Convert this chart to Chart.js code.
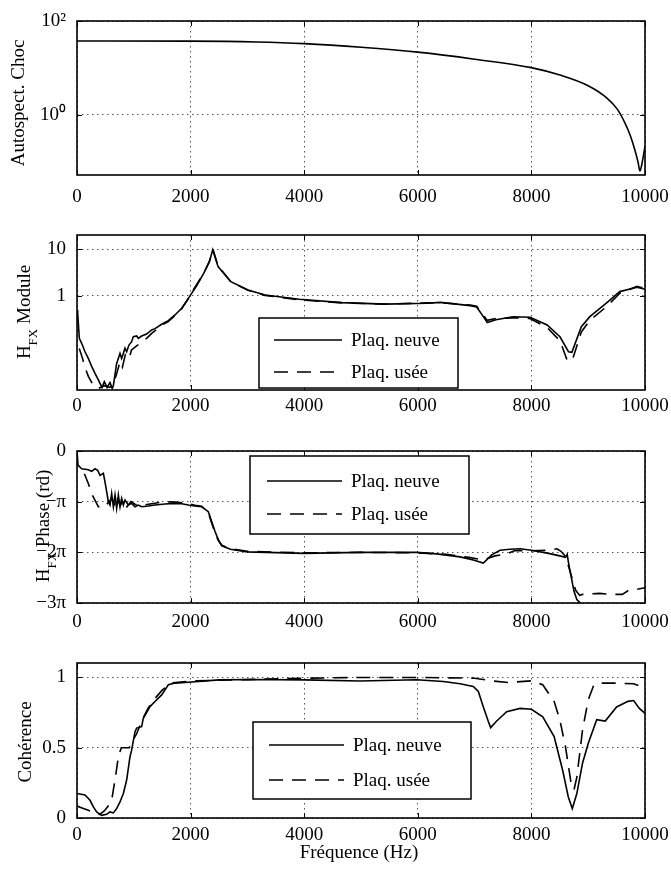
<!DOCTYPE html>
<html><head><meta charset="utf-8">
<script src="https://cdn.jsdelivr.net/npm/chart.js@4.4.1/dist/chart.umd.min.js"></script>
<style>
html,body{margin:0;padding:0;background:#fff;}
#wrap{position:relative;width:671px;height:872px;overflow:hidden;}
canvas{position:absolute;left:0;}
</style></head><body>
<div id="wrap">
<canvas id="c1" width="671" height="210" style="top:0px"></canvas>
<canvas id="c2" width="671" height="210" style="top:210px"></canvas>
<canvas id="c3" width="671" height="210" style="top:420px"></canvas>
<canvas id="c4" width="671" height="242" style="top:630px"></canvas>
</div>
<script>
// ---------------- DATA ----------------
const seriesLabels = ['Plaq. neuve', 'Plaq. usée'];
const xTicks = [0, 2000, 4000, 6000, 8000, 10000];

// Plot 1 : Autospectre du choc (log)
const autoFreq = [0, 1994, 3160, 4003, 5004, 5997, 6998, 7998, 8503, 8999, 9330, 9518, 9646, 9744, 9819, 9880, 9910, 9932, 10000];
const autoChoc = [37.5, 37.2, 35.7, 32.9, 27.5, 21.6, 15.3, 10.1, 7.0, 4.14, 2.26, 1.28, 0.665, 0.35, 0.18, 0.094, 0.063, 0.074, 0.21];
const autoYTicks = [1, 100];
const autoYLabels = ['10⁰', '10²'];

// Plot 2 : H_FX module (log)
const modFreqNeuve = [0, 12, 41, 82, 141, 199, 258, 317, 376, 405, 440, 481, 530, 581, 620, 640, 698, 757, 786, 845, 874, 915, 962, 992, 1050, 1080, 1138, 1226, 1315, 1373, 1491, 1608, 1725, 1843, 1960, 2100, 2230, 2330, 2390, 2483, 2709, 3010, 3311, 3913, 4665, 5418, 6170, 6396, 6923, 7036, 7148, 7223, 7374, 7675, 7976, 8277, 8503, 8653, 8713, 8879, 9029, 9330, 9556, 9857, 10000];
const modNeuve = [0.5, 0.43, 0.124, 0.097, 0.064, 0.046, 0.031, 0.022, 0.016, 0.0135, 0.011, 0.0146, 0.011, 0.014, 0.0105, 0.012, 0.036, 0.059, 0.046, 0.076, 0.064, 0.089, 0.105, 0.135, 0.139, 0.124, 0.139, 0.153, 0.187, 0.2, 0.248, 0.296, 0.392, 0.545, 0.89, 1.6, 3.06, 5.4, 9.7, 4.25, 2.02, 1.34, 1.05, 0.85, 0.72, 0.67, 0.70, 0.73, 0.62, 0.58, 0.37, 0.27, 0.31, 0.36, 0.35, 0.24, 0.134, 0.064, 0.062, 0.22, 0.36, 0.72, 1.24, 1.53, 1.39];
const modFreqUsee = [40, 100, 130, 200, 290, 380, 480, 580, 640, 700, 760, 800, 850, 915, 960, 1050, 1140, 1230, 1320, 1400, 1500, 1600, 1725, 1843, 1960, 2077, 2230, 2330, 2395, 2483, 2709, 3010, 3311, 3913, 4665, 5418, 6170, 6396, 6923, 7036, 7148, 7223, 7374, 7675, 7976, 8277, 8503, 8620, 8680, 8740, 8879, 9029, 9330, 9556, 9857, 10000];
const modUsee = [0.075, 0.045, 0.032, 0.019, 0.012, 0.0105, 0.012, 0.011, 0.013, 0.022, 0.04, 0.03, 0.055, 0.045, 0.07, 0.085, 0.105, 0.125, 0.16, 0.19, 0.24, 0.28, 0.38, 0.53, 0.87, 1.55, 3.0, 5.5, 9.9, 4.4, 2.0, 1.32, 1.03, 0.83, 0.71, 0.67, 0.71, 0.72, 0.64, 0.6, 0.4, 0.3, 0.33, 0.34, 0.33, 0.21, 0.11, 0.045, 0.039, 0.05, 0.17, 0.3, 0.6, 1.15, 1.6, 1.45];
const modYTicks = [1, 10];
const modYLabels = ['1', '10'];

// Plot 3 : H_FX phase (rd)
const phaseFreqNeuve = [0, 18, 82, 199, 258, 317, 364, 405, 464, 493, 522, 552, 581, 610, 640, 669, 698, 728, 757, 786, 816, 845, 904, 962, 1021, 1080, 1138, 1256, 1373, 1549, 1725, 1843, 1960, 2077, 2195, 2312, 2371, 2430, 2488, 2550, 2700, 3000, 4000, 4982, 5980, 6333, 6743, 6977, 7154, 7301, 7447, 7623, 7800, 8000, 8300, 8500, 8600, 8630, 8660, 8700, 8750, 8800, 8860, 8880];
const phaseNeuve = [0, -0.880, -1.100, -1.162, -1.257, -1.100, -1.194, -1.508, -1.382, -1.916, -2.513, -3.142, -3.352, -2.630, -3.456, -2.733, -3.556, -2.733, -3.456, -2.937, -3.352, -3.044, -3.352, -3.248, -3.456, -3.352, -3.456, -3.415, -3.352, -3.289, -3.248, -3.267, -3.352, -3.415, -3.456, -3.764, -4.367, -4.995, -5.498, -5.875, -6.095, -6.252, -6.346, -6.283, -6.283, -6.377, -6.566, -6.754, -6.943, -6.440, -6.158, -6.095, -6.063, -6.158, -6.346, -6.503, -6.597, -6.409, -7.069, -7.791, -8.702, -9.205, -9.425, -9.582];
const phaseFreqUsee = [130, 199, 270, 330, 376, 450, 493, 560, 610, 660, 700, 760, 820, 880, 950, 1021, 1100, 1256, 1373, 1549, 1725, 1843, 1960, 2077, 2195, 2312, 2371, 2430, 2488, 2550, 2700, 3000, 4000, 5000, 6000, 6500, 6900, 7150, 7360, 7565, 7700, 8000, 8300, 8450, 8520, 8600, 8700, 8780, 8850, 8900, 9000, 9200, 9400, 9600, 9700, 10000];
const phaseUsee = [-1.414, -2.011, -2.733, -3.142, -3.456, -3.519, -3.456, -3.142, -2.953, -3.299, -2.827, -3.393, -2.985, -3.456, -3.142, -3.299, -3.393, -3.299, -3.236, -3.142, -3.173, -3.204, -3.267, -3.362, -3.424, -3.833, -4.461, -5.089, -5.561, -5.843, -6.063, -6.220, -6.315, -6.283, -6.315, -6.409, -6.597, -6.754, -6.503, -6.377, -6.189, -6.189, -6.158, -6.063, -6.220, -6.535, -7.697, -8.639, -8.954, -8.891, -8.859, -8.828, -8.891, -8.891, -8.671, -8.482];
const phaseYTicks = [-9.42478, -6.28319, -3.14159, 0];
const phaseYLabels = ['−3π', '−2π', '−π', '0'];

// Plot 4 : Cohérence
const cohFreqNeuve = [0, 141, 229, 288, 346, 434, 522, 581, 640, 698, 757, 816, 874, 933, 962, 1021, 1050, 1138, 1167, 1285, 1373, 1491, 1608, 1725, 1901, 2500, 3000, 4000, 4982, 5980, 6450, 6743, 6977, 7066, 7154, 7242, 7283, 7389, 7565, 7800, 8000, 8200, 8400, 8550, 8650, 8720, 8800, 8900, 9000, 9150, 9300, 9500, 9700, 9800, 9900, 10000];
const cohNeuve = [0.174, 0.164, 0.126, 0.079, 0.043, 0.019, 0.026, 0.043, 0.036, 0.067, 0.114, 0.174, 0.27, 0.436, 0.483, 0.614, 0.64, 0.65, 0.71, 0.793, 0.829, 0.876, 0.948, 0.96, 0.964, 0.983, 0.986, 0.983, 0.975, 0.984, 0.971, 0.955, 0.936, 0.9, 0.79, 0.686, 0.643, 0.69, 0.757, 0.78, 0.774, 0.72, 0.58, 0.34, 0.15, 0.067, 0.174, 0.39, 0.53, 0.70, 0.69, 0.79, 0.83, 0.836, 0.78, 0.745];
const cohFreqUsee = [0, 100, 200, 300, 400, 480, 560, 620, 680, 730, 780, 860, 920, 980, 1050, 1150, 1250, 1350, 1500, 1650, 2000, 3000, 4000, 5000, 6000, 7000, 7300, 7600, 8000, 8200, 8400, 8500, 8600, 8700, 8750, 8800, 8900, 9000, 9100, 9200, 9500, 9800, 10000];
const cohUsee = [0.085, 0.07, 0.055, 0.035, 0.025, 0.05, 0.09, 0.15, 0.3, 0.44, 0.5, 0.5, 0.5, 0.55, 0.6, 0.7, 0.78, 0.84, 0.91, 0.96, 0.975, 0.985, 0.995, 1.0, 1.0, 0.995, 0.976, 0.964, 0.976, 0.948, 0.83, 0.70, 0.507, 0.245, 0.2, 0.29, 0.626, 0.84, 0.948, 0.96, 0.96, 0.955, 0.924];
const cohYTicks = [0, 0.5, 1];
const cohYLabels = ['0', '0.5', '1'];

// ---------------- RENDERING ----------------
const FONT = "'Liberation Serif','Times New Roman',serif";
const pts = (xs, ys) => xs.map((x, i) => ({x: x, y: ys[i]}));
const DASH = [14, 9];

const framePlugin = {
  id: 'frameTicks',
  afterDatasetsDraw(chart) {
    const ctx = chart.ctx, a = chart.chartArea, sx = chart.scales.x, sy = chart.scales.y;
    ctx.save();
    ctx.strokeStyle = '#000';
    ctx.setLineDash([]);
    ctx.lineWidth = 1;
    const L = 5;
    ctx.beginPath();
    sx.ticks.forEach(t => {
      const p = Math.round(sx.getPixelForValue(t.value)) + 0.5;
      ctx.moveTo(p, a.bottom); ctx.lineTo(p, a.bottom - L);
      ctx.moveTo(p, a.top); ctx.lineTo(p, a.top + L);
    });
    sy.ticks.forEach(t => {
      const p = Math.round(sy.getPixelForValue(t.value)) + 0.5;
      ctx.moveTo(a.left, p); ctx.lineTo(a.left + L, p);
      ctx.moveTo(a.right, p); ctx.lineTo(a.right - L, p);
    });
    ctx.stroke();
    ctx.lineWidth = 1.6;
    ctx.strokeRect(a.left, a.top, a.right - a.left, a.bottom - a.top);
    ctx.restore();
  }
};

const legendPlugin = {
  id: 'boxLegend',
  afterDraw(chart, args, o) {
    if (!o || !o.box) return;
    const ctx = chart.ctx;
    ctx.save();
    ctx.fillStyle = '#fff';
    ctx.fillRect(o.box[0], o.box[1], o.box[2], o.box[3]);
    ctx.strokeStyle = '#000';
    ctx.lineWidth = 1.5;
    ctx.setLineDash([]);
    ctx.strokeRect(o.box[0], o.box[1], o.box[2], o.box[3]);
    chart.data.datasets.forEach((ds, i) => {
      const y = o.rows[i];
      ctx.beginPath();
      ctx.setLineDash(ds.borderDash || []);
      ctx.lineWidth = ds.borderWidth;
      ctx.strokeStyle = ds.borderColor;
      ctx.moveTo(o.line[0], y); ctx.lineTo(o.line[1], y);
      ctx.stroke();
      ctx.setLineDash([]);
      ctx.fillStyle = '#000';
      ctx.font = '19px ' + FONT;
      ctx.textBaseline = 'middle';
      ctx.textAlign = 'left';
      ctx.fillText(ds.label, o.textX, y + 1);
    });
    ctx.restore();
  }
};

const titlePlugin = {
  id: 'axisTitles',
  afterDraw(chart, args, o) {
    const ctx = chart.ctx;
    ctx.save();
    ctx.fillStyle = '#000';
    if (o && o.parts) {
      const main = '19px ' + FONT, sub = '13px ' + FONT;
      const widths = [];
      let total = 0;
      o.parts.forEach(p => { ctx.font = p.sub ? sub : main; const w = ctx.measureText(p.t).width; widths.push(w); total += w; });
      ctx.save();
      ctx.translate(o.x, o.y);
      ctx.rotate(-Math.PI / 2);
      ctx.textBaseline = 'alphabetic';
      ctx.textAlign = 'left';
      let cx = -total / 2;
      o.parts.forEach((p, i) => { ctx.font = p.sub ? sub : main; ctx.fillText(p.t, cx, p.sub ? o.subOff : 0); cx += widths[i]; });
      ctx.restore();
    }
    if (o && o.xTitle) {
      ctx.font = '19px ' + FONT;
      ctx.textAlign = 'center';
      ctx.textBaseline = 'middle';
      ctx.fillText(o.xTitle, o.xTitleX, o.xTitleY);
    }
    ctx.restore();
  }
};

function makeChart(id, cfg) {
  const datasets = cfg.series.map((s, i) => ({
    label: seriesLabels[i],
    data: s,
    borderColor: '#000',
    borderWidth: 1.6,
    borderDash: i === 1 ? DASH : [],
    pointRadius: 0,
    fill: false,
    tension: 0,
    cubicInterpolationMode: cfg.smooth ? 'monotone' : 'default'
  }));
  return new Chart(document.getElementById(id), {
    type: 'line',
    data: { datasets: datasets },
    options: {
      responsive: false,
      animation: false,
      events: [],
      layout: { padding: { top: cfg.padTop, right: 26, left: 0, bottom: 0 } },
      plugins: {
        legend: { display: false },
        tooltip: { enabled: false },
        boxLegend: cfg.legend || {},
        axisTitles: cfg.titles
      },
      scales: {
        x: {
          type: 'linear', min: 0, max: 10000,
          afterBuildTicks: s => { s.ticks = xTicks.map(v => ({ value: v })); },
          afterFit: s => { s.height = cfg.xh; s.paddingLeft = 0; s.paddingRight = 0; },
          ticks: { color: '#000', font: { family: FONT, size: 19 }, padding: cfg.xpad, maxRotation: 0, autoSkip: false,
                   callback: v => String(v) },
          grid: { color: '#555', lineWidth: 1, drawTicks: false },
          border: { display: false, dash: [1.5, 3.5] }
        },
        y: {
          type: cfg.ytype, min: cfg.ymin, max: cfg.ymax,
          afterBuildTicks: s => { s.ticks = cfg.yticks.map(v => ({ value: v })); },
          afterFit: s => { s.width = 77; s.paddingTop = 0; s.paddingBottom = 0; },
          ticks: { color: '#000', font: { family: FONT, size: 19 }, padding: 11, autoSkip: false,
                   callback: v => { const k = cfg.yticks.findIndex(t => Math.abs(t - v) < 1e-6); return k >= 0 ? cfg.ylabels[k] : ''; } },
          grid: { color: '#555', lineWidth: 1, drawTicks: false },
          border: { display: false, dash: [1.5, 3.5] }
        }
      }
    },
    plugins: [framePlugin, legendPlugin, titlePlugin]
  });
}

makeChart('c1', {
  series: [pts(autoFreq, autoChoc)], smooth: true,
  padTop: 21, xh: 35, xpad: 11,
  ytype: 'logarithmic', ymin: 0.0515, ymax: 100, yticks: autoYTicks, ylabels: autoYLabels,
  titles: { x: 24, y: 103, subOff: 6, parts: [{ t: 'Autospect. Choc' }] }
});
makeChart('c2', {
  series: [pts(modFreqNeuve, modNeuve), pts(modFreqUsee, modUsee)],
  padTop: 25, xh: 30, xpad: 5,
  ytype: 'logarithmic', ymin: 0.0097, ymax: 20.2, yticks: modYTicks, ylabels: modYLabels,
  legend: { box: [259, 108, 199, 70], line: [274, 342], textX: 351, rows: [130, 162] },
  titles: { x: 30, y: 102, subOff: 7, parts: [{ t: 'H' }, { t: 'FX', sub: true }, { t: ' Module' }] }
});
makeChart('c3', {
  series: [pts(phaseFreqNeuve, phaseNeuve), pts(phaseFreqUsee, phaseUsee)],
  padTop: 31, xh: 27, xpad: 8,
  ytype: 'linear', ymin: -9.42478, ymax: 0, yticks: phaseYTicks, ylabels: phaseYLabels,
  legend: { box: [250, 36, 219, 78], line: [267, 342], textX: 351, rows: [61, 94] },
  titles: { x: 49, y: 106, subOff: 7, parts: [{ t: 'H' }, { t: 'FX', sub: true }, { t: ' Phase (rd)' }] }
});
makeChart('c4', {
  series: [pts(cohFreqNeuve, cohNeuve), pts(cohFreqUsee, cohUsee)],
  padTop: 33, xh: 54, xpad: 6,
  ytype: 'linear', ymin: 0, ymax: 1.103, yticks: cohYTicks, ylabels: cohYLabels,
  legend: { box: [253, 92, 218, 77], line: [269, 344], textX: 353, rows: [115, 150] },
  titles: { x: 31, y: 112, subOff: 6, parts: [{ t: 'Cohérence' }], xTitle: 'Fréquence (Hz)', xTitleX: 359, xTitleY: 223 }
});
</script>
</body></html>
